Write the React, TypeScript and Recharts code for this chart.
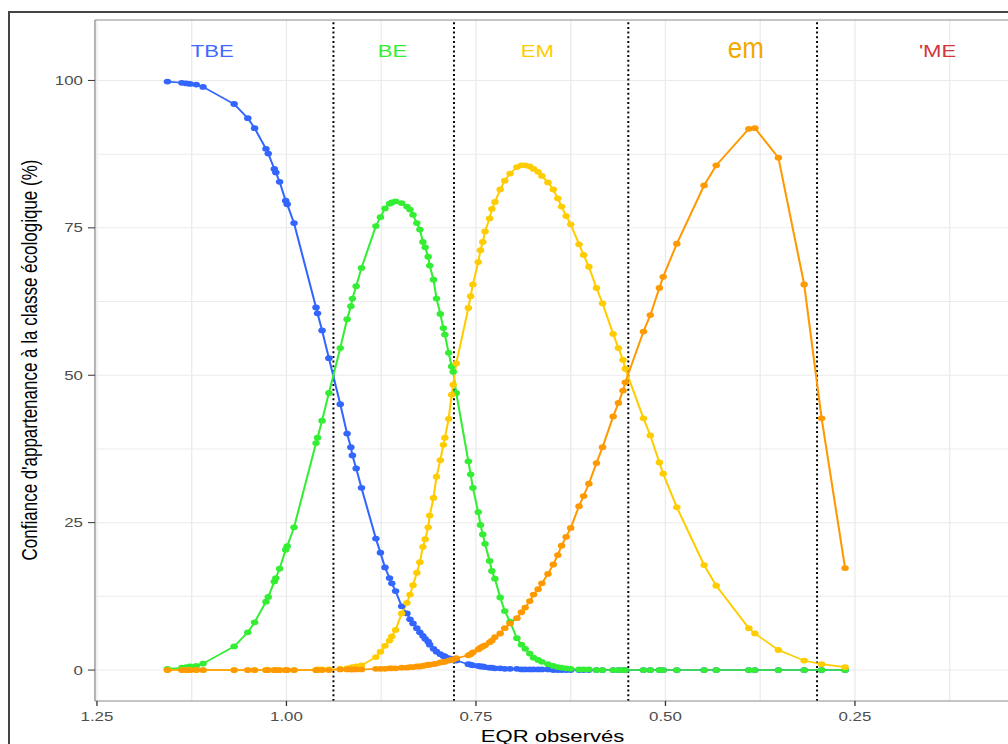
import React from "react";
import {
  LineChart,
  Line,
  XAxis,
  YAxis,
  CartesianGrid,
  ReferenceLine,
  ReferenceDot,
} from "recharts";

// the reference picture is stretched sideways, so the chart is drawn narrow and scaled
const STRETCH = 1.3;
const W = 780;
const H = 736;
const FONT = "'Liberation Sans', Arial, Helvetica, sans-serif";

// observed EQR values (shared by the four class curves)
const eqr = [
  1.157, 1.138, 1.132, 1.127, 1.119, 1.11, 1.069, 1.051, 1.042, 1.027, 1.024, 1.016, 1.014,
  1.009, 1.001, 0.999, 0.99, 0.961, 0.959, 0.953, 0.944, 0.929, 0.92, 0.915, 0.913, 0.908,
  0.901, 0.882, 0.876, 0.87, 0.864, 0.861, 0.856, 0.848, 0.841, 0.837, 0.833, 0.828, 0.824,
  0.82, 0.817, 0.813, 0.811, 0.806, 0.802, 0.797, 0.793, 0.791, 0.786, 0.782, 0.78, 0.776,
  0.76, 0.757, 0.754, 0.747, 0.744, 0.741, 0.738, 0.732, 0.729, 0.725, 0.718, 0.712, 0.705,
  0.696, 0.69, 0.685, 0.679, 0.674, 0.668, 0.663, 0.655, 0.648, 0.642, 0.637, 0.631, 0.625,
  0.614, 0.608, 0.601, 0.591, 0.583, 0.569, 0.562, 0.556, 0.553, 0.529, 0.52, 0.508, 0.503,
  0.485, 0.449, 0.433, 0.39, 0.382, 0.351, 0.317, 0.294, 0.263,
];

// confidence (%) for each class
const tbe = [
  99.8, 99.6, 99.5, 99.4, 99.3, 98.9, 96.0, 93.6, 91.9, 88.4, 87.6, 85.0, 84.4,
  82.8, 79.6, 79.0, 75.8, 61.5, 60.5, 57.6, 52.9, 45.1, 40.1, 37.8, 36.4, 34.2,
  30.9, 22.3, 19.9, 17.4, 15.6, 14.7, 13.4, 10.8, 9.6, 8.6, 7.9, 7.1, 6.4,
  5.8, 5.3, 4.8, 4.3, 3.6, 3.1, 2.7, 2.4, 2.3, 2.0, 1.9, 1.8, 1.6,
  1.0, 0.9, 0.8, 0.7, 0.6, 0.6, 0.5, 0.4, 0.4, 0.3, 0.3, 0.2, 0.2,
  0.2, 0.1, 0.1, 0.1, 0.1, 0.1, 0.1, 0.1, 0, 0, 0, 0, 0,
  0, 0, 0, 0, 0, 0, 0, 0, 0, 0, 0, 0, 0,
  0, 0, 0, 0, 0, 0, 0, 0, 0,
];
const be = [
  0.2, 0.4, 0.5, 0.6, 0.7, 1.1, 4.0, 6.4, 8.1, 11.6, 12.4, 15.0, 15.6,
  17.2, 20.4, 21.0, 24.2, 38.5, 39.4, 42.3, 47.0, 54.6, 59.5, 61.7, 63.0, 65.1,
  68.2, 75.3, 76.8, 78.3, 79.1, 79.3, 79.5, 79.2, 78.6, 78.1, 77.2, 75.8, 74.7,
  72.6, 71.7, 70.1, 68.6, 66.2, 63.0, 60.4, 58.0, 56.9, 53.8, 51.5, 50.6, 47.0,
  35.4, 33.2, 30.9, 26.8, 24.6, 23.0, 21.4, 18.5, 16.8, 15.5, 12.3, 10.0, 8.2,
  5.4, 4.3, 3.6, 2.8, 2.1, 1.7, 1.4, 1.0, 0.7, 0.5, 0.4, 0.3, 0.2,
  0.1, 0.1, 0.1, 0, 0, 0, 0, 0, 0, 0, 0, 0, 0,
  0, 0, 0, 0, 0, 0, 0, 0, 0,
];
const emUpper = [
  0, 0, 0, 0, 0, 0, 0, 0, 0, 0, 0, 0, 0,
  0, 0, 0, 0, 0, 0.1, 0.1, 0.1, 0.2, 0.3, 0.4, 0.5, 0.6,
  0.8, 2.2, 3.1, 4.1, 5.0, 5.7, 6.8, 9.6, 11.4, 12.8, 14.4, 16.5, 18.3,
  20.9, 22.2, 24.2, 26.2, 29.2, 32.8, 35.6, 38.2, 39.4, 42.6, 46.7, 48.4, 52.0,
  61.4, 63.4, 65.4, 69.2, 71.2, 72.6, 74.4, 76.6, 78.2, 79.4, 81.5, 83.0, 84.2,
  85.3, 85.6, 85.6, 85.4, 85.0, 84.5, 83.8, 82.7, 81.5, 80.0, 78.6, 77.0, 75.6,
  72.2, 70.4, 68.4, 64.8, 62.2, 57.0, 54.6, 52.6, 51.1, 42.7, 39.8, 35.2, 33.3,
  27.6, 17.8, 14.3, 7.1, 6.2, 3.4, 1.6, 1.0, 0.5,
];
const emLower = [
  0, 0, 0, 0, 0, 0, 0, 0, 0, 0, 0, 0, 0,
  0, 0, 0, 0, 0, 0, 0, 0, 0.1, 0.1, 0.1, 0.1, 0.1,
  0.1, 0.2, 0.2, 0.2, 0.3, 0.3, 0.3, 0.4, 0.4, 0.5, 0.5, 0.6, 0.6,
  0.7, 0.8, 0.9, 0.9, 1.0, 1.1, 1.3, 1.4, 1.4, 1.6, 1.7, 1.8, 2.0,
  2.5, 2.7, 3.0, 3.5, 3.8, 4.0, 4.2, 4.7, 5.0, 5.6, 6.2, 7.1, 7.9,
  8.8, 9.8, 10.6, 11.7, 12.8, 13.7, 14.7, 16.3, 17.9, 19.5, 21.1, 22.6, 24.1,
  27.8, 29.5, 31.6, 35.1, 37.8, 43.0, 45.3, 47.4, 48.8, 57.4, 60.2, 64.8, 66.7,
  72.3, 82.2, 85.6, 91.8, 91.9, 86.9, 65.4, 42.7, 17.3,
];

const boundaries = [0.938, 0.779, 0.549, 0.3];
const classNames = ["TBE", "BE", "EM", "em", "'ME"];
const classX = [1.098, 0.86, 0.669, 0.394, 0.141];
const classColors = ["#4169ff", "#33ee33", "#ffcc00", "#f5a800", "#d2343c"];

const xTicks = [1.25, 1.0, 0.75, 0.5, 0.25];
const yTicks = [0, 25, 50, 75, 100];
const xGrid = [1.25, 1.125, 1.0, 0.875, 0.75, 0.625, 0.5, 0.375, 0.25, 0.125];
const yGrid = [0, 12.5, 25, 37.5, 50, 62.5, 75, 87.5, 100];

const X_DOMAIN: [number, number] = [0.0454, 1.2526];
const Y_DOMAIN: [number, number] = [-5.25, 110.25];
const LABEL_Y = 105;
const BORDER = "#8c8c8c";

const series = [
  { key: "tbe", color: "#3366ff" },
  { key: "be", color: "#33ee33" },
  { key: "emUpper", color: "#ffcc00" },
  { key: "emLower", color: "#ff9900" },
];

const rows = eqr.map((x, i) => ({
  x,
  tbe: tbe[i],
  be: be[i],
  emUpper: emUpper[i],
  emLower: emLower[i],
}));

function ClassLabel(props: any) {
  const { viewBox, text, color } = props;
  const cx = viewBox.x + viewBox.width / 2;
  const cy = viewBox.y + viewBox.height / 2;
  if (text === "em") {
    return (
      <g transform={`translate(${cx},${cy + 7.3}) scale(1,1.5)`}>
        <text textAnchor="middle" fontSize={20} fill={color} fontFamily={FONT}>
          {text}
        </text>
      </g>
    );
  }
  return (
    <text x={cx} y={cy + 6.2} textAnchor="middle" fontSize={17} fill={color} fontFamily={FONT}>
      {text}
    </text>
  );
}

export default function App() {
  // fixed so the page never grows scrollbars
  return (
    <div
      style={{
        position: "fixed",
        left: 8,
        top: 8,
        width: 1000,
        height: 736,
        overflow: "hidden",
        background: "#fff",
      }}
    >
      <div
        style={{
          position: "absolute",
          left: 0,
          top: 0,
          width: W,
          height: H,
          transform: `scaleX(${STRETCH})`,
          transformOrigin: "0 0",
        }}
      >
        <LineChart
          width={W}
          height={H}
          data={rows}
          margin={{ top: 12, right: 9.2, bottom: 8, left: 0 }}
        >
          <CartesianGrid
            stroke="#ebebeb"
            strokeWidth={1}
            horizontalValues={yGrid}
            verticalValues={xGrid}
          />
          <XAxis
            dataKey="x"
            type="number"
            domain={X_DOMAIN}
            allowDataOverflow
            reversed
            ticks={xTicks}
            tickFormatter={(v: number) => v.toFixed(2)}
            height={35}
            axisLine={{ stroke: BORDER }}
            tickLine={{ stroke: "#333333" }}
            tickSize={5}
            tickMargin={5.7}
            tick={{ fill: "#4d4d4d", fontSize: 13, fontFamily: FONT }}
            interval={0}
          />
          <YAxis
            type="number"
            domain={Y_DOMAIN}
            allowDataOverflow
            ticks={yTicks}
            width={66.9}
            axisLine={{ stroke: BORDER }}
            tickLine={{ stroke: "#333333" }}
            tickSize={5.4}
            tickMargin={3.8}
            tick={{ fill: "#4d4d4d", fontSize: 13, fontFamily: FONT }}
            interval={0}
          />
          <ReferenceLine y={Y_DOMAIN[1]} stroke={BORDER} strokeWidth={1} ifOverflow="visible" />
          {boundaries.map((b) => (
            <ReferenceLine
              key={b}
              x={b}
              stroke="#000000"
              strokeWidth={1.5}
              strokeDasharray="2 2.7"
            />
          ))}
          {series.map((s) => (
            <Line
              key={s.key}
              dataKey={s.key}
              stroke={s.color}
              strokeWidth={1.6}
              dot={{ r: 2.9, fill: s.color, stroke: "none" }}
              activeDot={false}
              isAnimationActive={false}
            />
          ))}
          {classNames.map((name, i) => (
            <ReferenceDot
              key={name}
              x={classX[i]}
              y={LABEL_Y}
              r={1}
              fill="none"
              stroke="none"
              label={(p: any) => <ClassLabel {...p} text={name} color={classColors[i]} />}
            />
          ))}
        </LineChart>
        <svg
          width={W}
          height={H}
          style={{ position: "absolute", left: 0, top: 0, pointerEvents: "none" }}
        >
          <line x1={0} y1={4} x2={W} y2={4} stroke="#444" strokeWidth={2} />
          <line x1={0.77} y1={3} x2={0.77} y2={H} stroke="#444" strokeWidth={1.54} />
          <text
            x={22.3}
            y={352}
            transform="rotate(-90 22.3 352)"
            textAnchor="middle"
            fontSize={17}
            fontFamily={FONT}
            fill="#000"
          >
            Confiance d'appartenance à la classe écologique (%)
          </text>
          <text x={418.9} y={734} textAnchor="middle" fontSize={17} fontFamily={FONT} fill="#000">
            EQR observés
          </text>
        </svg>
      </div>
    </div>
  );
}
